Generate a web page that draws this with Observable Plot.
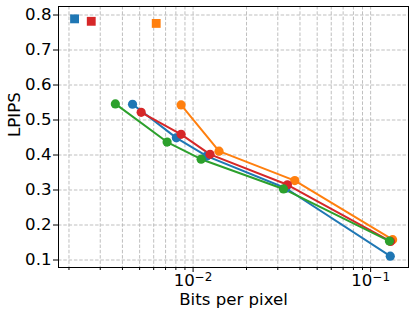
<!DOCTYPE html>
<html>
<head>
<meta charset="utf-8">
<script src="https://cdn.jsdelivr.net/npm/d3@7"></script>
<script src="https://cdn.jsdelivr.net/npm/@observablehq/plot@0.6"></script>
<style>
  html, body { margin: 0; padding: 0; background: white; }
</style>
</head>
<body>
<div id="chart"></div>
<script>
// Series data: bits per pixel (x) and LPIPS (y)
const blueX = [0.00456, 0.00805, 0.01194, 0.0333, 0.129];
const blueY = [0.545, 0.449, 0.397, 0.305, 0.111];
const redX = [0.00510, 0.00856, 0.01246, 0.0340, 0.1295];
const redY = [0.522, 0.459, 0.402, 0.315, 0.153];
const greenX = [0.00365, 0.00714, 0.0111, 0.0323, 0.1276];
const greenY = [0.546, 0.437, 0.388, 0.303, 0.154];
const orangeX = [0.00856, 0.0140, 0.0374, 0.1330];
const orangeY = [0.543, 0.411, 0.327, 0.158];
// Single square markers
const squareNames = ["S1", "S2", "S3"];
const squareX = [0.00215, 0.00267, 0.00620];
const squareY = [0.789, 0.782, 0.776];

const colorDomain = ["S1", "S2", "S3", "S4"];
const colorRange = ["#1f77b4", "#d62728", "#ff7f0e", "#2ca02c"];

const yTicks = [0.1, 0.2, 0.3, 0.4, 0.5, 0.6, 0.7, 0.8];
const xMajor = [0.01, 0.1];
const xMajorExp = ["\u22122", "\u22121"];
const xMinor = [0.002,0.003,0.004,0.005,0.006,0.007,0.008,0.009,0.02,0.03,0.04,0.05,0.06,0.07,0.08,0.09];

// draw order: blue, orange, red, green
const series = [
  {name: "S1", xs: blueX, ys: blueY},
  {name: "S3", xs: orangeX, ys: orangeY},
  {name: "S2", xs: redX, ys: redY},
  {name: "S4", xs: greenX, ys: greenY}
];
const rows = series.flatMap(s => s.xs.map((x, i) => ({series: s.name, x, y: s.ys[i]})));
const squares = squareNames.map((n, i) => ({series: n, x: squareX[i], y: squareY[i]}));

const gridStyle = {stroke: "#b8b8b8", strokeOpacity: 1, strokeWidth: 0.9, strokeDasharray: "3.5,1.8"};

const chart = Plot.plot({
  width: 415,
  height: 315,
  marginLeft: 58,
  marginRight: 7,
  marginTop: 6,
  marginBottom: 48,
  style: {fontFamily: "DejaVu Sans", fontSize: "16.6px", color: "black", background: "white", overflow: "visible"},
  x: {type: "log", domain: [0.001746, 0.1634]},
  y: {domain: [0.0786, 0.8243]},
  color: {domain: colorDomain, range: colorRange},
  marks: [
    Plot.gridX([...xMajor, ...xMinor], gridStyle),
    Plot.gridY(yTicks, gridStyle),
    Plot.axisX(xMajor, {tickSize: 5, tickPadding: 2, tickFormat: d => "10", label: null, fontSize: 16.6, ariaLabel: "x-major"}),
    Plot.axisX(xMinor, {tickSize: 3, tickFormat: () => "", label: null}),
    Plot.axisY(yTicks, {tickSize: 5, tickPadding: 2, tickFormat: d => d.toFixed(1), label: null, fontSize: 16.6}),
    Plot.line(rows, {x: "x", y: "y", z: "series", stroke: "series", strokeWidth: 2}),
    Plot.dot(rows, {x: "x", y: "y", fill: "series", r: 4.6}),
    Plot.dot(squares, {x: "x", y: "y", fill: "series", symbol: "square", r: 5}),
    Plot.frame({stroke: "black", strokeWidth: 1}),
    Plot.text(["Bits per pixel"], {frameAnchor: "bottom", dy: 32, lineAnchor: "middle", fontSize: 16.6, fill: "black"}),
    Plot.text(["LPIPS"], {frameAnchor: "left", dx: -44, rotate: -90, fontSize: 16.6, fill: "black"})
  ]
});
document.getElementById("chart").appendChild(chart);

// Matplotlib-style exponent labels on the major x ticks
const majorLabels = chart.querySelectorAll('g[aria-label="x-major tick label"] text');
majorLabels.forEach((t, i) => {
  const ts = document.createElementNS("http://www.w3.org/2000/svg", "tspan");
  ts.setAttribute("dy", "-0.45em");
  ts.setAttribute("font-size", "0.72em");
  ts.textContent = xMajorExp[i];
  t.appendChild(ts);
});
</script>
</body>
</html>
